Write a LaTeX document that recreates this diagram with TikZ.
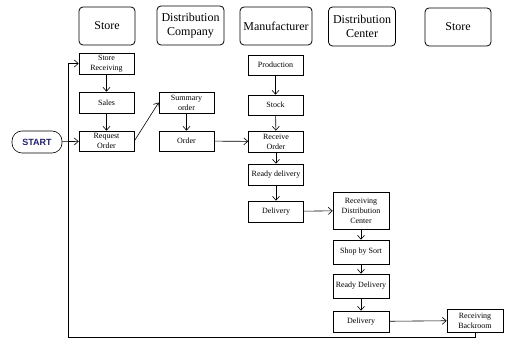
\documentclass[tikz,border=0pt]{standalone}
\usepackage{fontspec}
\usetikzlibrary{arrows.meta}
\setmainfont{Liberation Serif}
\newfontfamily\startfont{Liberation Sans}
\definecolor{startblue}{RGB}{30,30,110}
\tikzset{
  header/.style={draw, thick, rounded corners=4pt, align=center, inner sep=1pt,
    font=\fontsize{12}{14}\selectfont},
  proc/.style={draw, semithick, align=center, inner sep=1pt, minimum width=55pt,
    font=\fontsize{8}{10}\selectfont},
  startnode/.style={draw, semithick, rounded corners=10pt, minimum width=50pt, minimum height=22pt,
    text=startblue, font=\startfont\bfseries\fontsize{9}{10}\selectfont},
  flow/.style={semithick, -{Straight Barb[length=4pt,width=7pt]}}
}
\begin{document}
\begin{tikzpicture}[x=1pt,y=-1pt]
\useasboundingbox (0,0) rectangle (506,347);
% column headers
\node[header, minimum width=56pt, minimum height=38pt] (hstoreA) at (107,26) {Store};
\node[header, minimum width=67pt, minimum height=39pt] (hdistco) at (190.5,25.5) {Distribution\\Company};
\node[header, minimum width=72pt, minimum height=38pt] (hmanu) at (276,26) {Manufacturer};
\node[header, minimum width=67pt, minimum height=39pt] (hdistce) at (362,26.5) {Distribution\\Center};
\node[header, minimum width=66pt, minimum height=38pt] (hstoreB) at (458,27) {Store};
% store
\node[startnode] (start) at (37,142) {START};
\node[proc, minimum height=21pt] (recv) at (106.5,63.5) {Store\\Receiving};
\node[proc, minimum height=21pt] (sales) at (106.5,102.5) {Sales};
\node[proc, minimum height=20pt] (req) at (106.5,141) {Request\\Order};
% distribution company
\node[proc, minimum height=21pt] (summ) at (186.5,102.5) {Summary\\order};
\node[proc, minimum height=20pt] (order) at (186.5,141) {Order};
% manufacturer
\node[proc, minimum height=20pt] (prod) at (275.5,65) {Production};
\node[proc, minimum height=20pt] (stock) at (275.5,105) {Stock};
\node[proc, minimum height=21pt] (recvord) at (276,141.5) {Receive\\Order};
\node[proc, minimum height=21pt] (ready) at (276,174.5) {Ready delivery};
\node[proc, minimum height=21pt] (deliv) at (276,211.5) {Delivery};
% distribution center
\node[proc, minimum width=56pt, minimum height=37pt] (rdc) at (361,210.5) {Receiving\\Distribution\\Center};
\node[proc, minimum width=56pt, minimum height=24pt] (sort) at (361,252) {Shop by Sort};
\node[proc, minimum width=56pt, minimum height=24pt] (readyB) at (361,286) {Ready Delivery};
\node[proc, minimum width=56pt, minimum height=21pt] (delivB) at (361,321.5) {Delivery};
% store
\node[proc, minimum width=56pt, minimum height=23pt] (backroom) at (475,320.5) {Receiving\\Backroom};
\coordinate (loop) at (68,337);
% flow
\draw[flow] (recv)--(sales);
\draw[flow] (sales)--(req);
\draw[flow] (start)--(req);
\draw[flow] (req.east)--(summ.west);
\draw[flow] (summ)--(order);
\draw[flow] (order)--(recvord);
\draw[flow] (prod)--(stock);
\draw[flow] (stock)--(recvord);
\draw[flow] (recvord)--(ready);
\draw[flow] (ready)--(deliv);
\draw[flow] (deliv)--(rdc);
\draw[flow] (rdc)--(sort);
\draw[flow] (sort)--(readyB);
\draw[flow] (readyB)--(delivB);
\draw[flow] (delivB)--(backroom);
\draw[flow] (backroom.south) |- (loop) |- (recv.west);
\end{tikzpicture}
\end{document}
